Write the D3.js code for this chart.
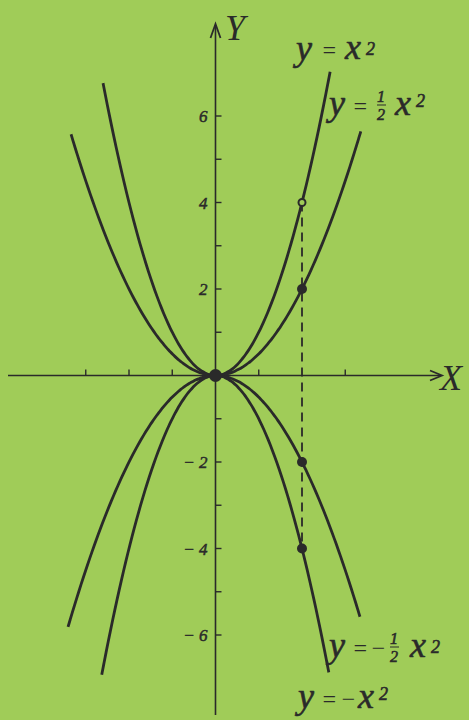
<!DOCTYPE html>
<html>
<head>
<meta charset="utf-8">
<script src="https://cdn.jsdelivr.net/npm/d3@7"></script>
<style>
  html, body { margin: 0; padding: 0; background: #a0cc58; }
  svg { display: block; }
  text { font-family: "Liberation Serif", "DejaVu Serif", serif; font-style: italic; fill: #2a2a2a; }
</style>
</head>
<body>
<svg id="chart" width="469" height="720"></svg>
<script>
// parabolas y = k * x^2 and where each one is cut off
const coefficients = [1, 0.5, -0.5, -1];
const xStart = [-2.6, -3.34, -3.41, -2.63];
const xEnd = [2.67, 3.36, 3.34, 2.66];

// the marked points on x = 2
const markX = 2;
const markY = [4, 2, -2, -4];
const hollowMark = [true, false, false, false];

const xTicks = [-3, -2, -1, 1, 3];
const yTicks = [-6, -5, -4, -3, -2, -1, 1, 2, 3, 4, 5, 6];
const yTickLabels = [6, 4, 2, -2, -4, -6];

const ink = "#2a2a2a";
const bg = "#a0cc58";
const svg = d3.select("#chart");

const x = d3.scaleLinear().domain([-4, 4]).range([42.5, 388.5]);
const y = d3.scaleLinear().domain([-6, 6]).range([635, 116]);

// axes
const axes = svg.append("g").attr("stroke", ink).attr("fill", "none");

axes.append("line")
    .attr("x1", 8).attr("x2", 441)
    .attr("y1", y(0)).attr("y2", y(0))
    .attr("stroke-width", 1.6);
axes.append("path")
    .attr("d", `M${430},${y(0) - 5} L${442},${y(0)} L${430},${y(0) + 5}`)
    .attr("stroke-width", 1.8);

axes.append("line")
    .attr("x1", x(0)).attr("x2", x(0))
    .attr("y1", 715).attr("y2", 25)
    .attr("stroke-width", 1.6);
axes.append("path")
    .attr("d", `M${x(0) - 5},${38} L${x(0)},${24} L${x(0) + 5},${38}`)
    .attr("stroke-width", 1.8);

axes.selectAll(".xtick")
    .data(xTicks)
    .enter().append("line")
    .attr("class", "xtick")
    .attr("x1", d => x(d)).attr("x2", d => x(d))
    .attr("y1", y(0)).attr("y2", y(0) - 6)
    .attr("stroke-width", 1.4);

axes.selectAll(".ytick")
    .data(yTicks)
    .enter().append("line")
    .attr("class", "ytick")
    .attr("x1", x(0)).attr("x2", x(0) + 6)
    .attr("y1", d => y(d)).attr("y2", d => y(d))
    .attr("stroke-width", 1.4);

svg.selectAll(".ylabel")
    .data(yTickLabels)
    .enter().append("text")
    .attr("class", "ylabel")
    .attr("x", x(0) - 8)
    .attr("y", d => y(d) + 6)
    .attr("text-anchor", "end")
    .attr("font-size", 17)
    .attr("stroke", ink)
    .attr("stroke-width", 0.5)
    .text(d => d < 0 ? "\u2212 " + (-d) : d);

svg.append("text").attr("x", 225).attr("y", 40).attr("font-size", 36).text("Y");
svg.append("text").attr("x", 440).attr("y", 390).attr("font-size", 36).text("X");

// dashed guide at x = 2
svg.append("line")
    .attr("x1", x(markX)).attr("x2", x(markX))
    .attr("y1", y(d3.max(markY))).attr("y2", y(d3.min(markY)))
    .attr("stroke", ink)
    .attr("stroke-width", 1.8)
    .attr("stroke-dasharray", "9,6");

// curves
const line = d3.line().x(d => x(d[0])).y(d => y(d[1])).curve(d3.curveBasis);

coefficients.forEach((k, i) => {
    const pts = d3.range(xStart[i], xEnd[i] + 0.001, 0.05).map(v => [v, k * v * v]);
    svg.append("path")
        .attr("d", line(pts))
        .attr("fill", "none")
        .attr("stroke", ink)
        .attr("stroke-width", 2.8);
});

// marked points
svg.selectAll(".mark")
    .data(markY)
    .enter().append("circle")
    .attr("class", "mark")
    .attr("cx", x(markX))
    .attr("cy", d => y(d))
    .attr("r", (d, i) => hollowMark[i] ? 3.5 : 5)
    .attr("fill", (d, i) => hollowMark[i] ? bg : ink)
    .attr("stroke", ink)
    .attr("stroke-width", (d, i) => hollowMark[i] ? 2 : 0);

svg.append("circle")
    .attr("cx", x(0)).attr("cy", y(0))
    .attr("r", 6.5)
    .attr("fill", ink);

// curve labels, piece by piece
function put(px, py, str, size, upright) {
    return svg.append("text")
        .attr("x", px).attr("y", py)
        .attr("font-size", size)
        .attr("font-style", upright ? "normal" : "italic")
        .attr("stroke", upright ? "none" : ink)
        .attr("stroke-width", 0.6)
        .text(str);
}
function half(cx, base) {
    put(cx, base - 13, "1", 16, false).attr("text-anchor", "middle");
    svg.append("line")
        .attr("x1", cx - 4).attr("x2", cx + 5)
        .attr("y1", base - 10).attr("y2", base - 10)
        .attr("stroke", ink).attr("stroke-width", 1);
    put(cx, base + 5, "2", 16, false).attr("text-anchor", "middle");
}
function xSquared(px, base, supBase) {
    const t = put(px, base, "x", 36);
    const box = t.node().getBBox();
    put(box.x + box.width + 5, supBase, "2", 18, false);
}

// y = x^2
put(296, 60, "y", 36);
put(321, 58, "=", 24, true);
xSquared(345, 59, 55);

// y = 1/2 x^2
put(329, 115, "y", 36);
put(352, 114, "=", 24, true);
half(381, 115);
xSquared(395, 115, 107);

// y = -1/2 x^2
put(329, 657, "y", 36);
put(352, 656, "=", 24, true);
put(370, 656, "\u2212", 24, true);
half(394, 657);
xSquared(410, 657, 653);

// y = -x^2
put(298, 708, "y", 36);
put(321, 707, "=", 24, true);
put(340, 707, "\u2212", 24, true);
xSquared(358, 708, 700);
</script>
</body>
</html>
